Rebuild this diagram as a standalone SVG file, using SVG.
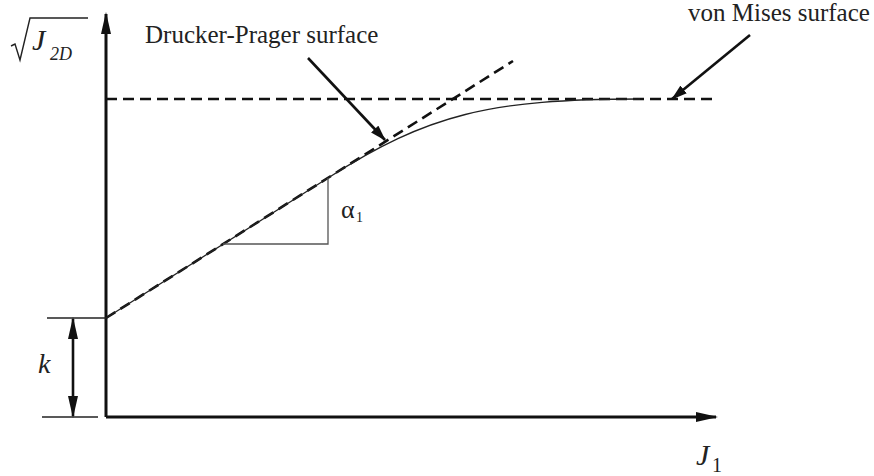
<svg xmlns="http://www.w3.org/2000/svg" width="874" height="476" viewBox="0 0 874 476">
<style>
.txt{font-family:"Liberation Serif","Times New Roman",serif;fill:#222}
.it{font-style:italic}
.axis{stroke:#111;stroke-width:3;fill:none}
.dash{stroke:#111;stroke-width:2.6;stroke-dasharray:11 6;fill:none}
.thin{stroke:#333;stroke-width:1.3;fill:none}
.ptr{stroke:#111;stroke-width:2.6;fill:none}
</style>
<defs>
<marker id="ah" viewBox="0 0 22 10" refX="20" refY="5" markerWidth="22" markerHeight="10" markerUnits="userSpaceOnUse" orient="auto-start-reverse">
<path d="M0,0 L22,5 L0,10 z" fill="#111"/>
</marker>
<marker id="ph" viewBox="0 0 16 10" refX="15" refY="5" markerWidth="16" markerHeight="10" markerUnits="userSpaceOnUse" orient="auto">
<path d="M0,0 L16,5 L0,10 z" fill="#111"/>
</marker>
</defs>
<g id="axes">
<line class="axis" x1="106" y1="417" x2="106" y2="14" marker-end="url(#ah)"/>
<line class="axis" x1="106" y1="417" x2="716" y2="417" marker-end="url(#ah)"/>
</g>
<g id="y-label">
<path class="thin" d="M11,46 L15,44 L20,60 L30,18 L88,18" style="stroke:#222;stroke-width:1.4"/>
<text class="txt it" x="32" y="50" font-size="30">J</text>
<text class="txt it" x="50" y="60" font-size="18">2D</text>
</g>
<g id="x-label">
<text class="txt it" x="696" y="465" font-size="30">J</text>
<text class="txt" x="712" y="472" font-size="20">1</text>
</g>
<g id="von-mises-surface">
<line class="dash" x1="106" y1="99" x2="718" y2="99"/>
</g>
<g id="drucker-prager-surface">
<line class="dash" x1="106" y1="318" x2="513" y2="61"/>
</g>
<g id="yield-curve">
<path class="thin" d="M106,318 L328,178 C428,114 490,99 640,99" style="stroke:#222"/>
</g>
<g id="slope-triangle">
<path class="thin" d="M223,244 L328,244 L328,178" style="stroke:#555"/>
<text class="txt" x="341" y="218" font-size="26">α</text>
<text class="txt" x="356" y="222" font-size="14">1</text>
</g>
<g id="k-dimension">
<line class="thin" x1="47" y1="318" x2="106" y2="318" style="stroke:#222"/>
<line class="thin" x1="42" y1="417" x2="98" y2="417" style="stroke:#222"/>
<line class="ptr" x1="73" y1="319" x2="73" y2="416" marker-start="url(#ah)" marker-end="url(#ah)"/>
<text class="txt it" x="38" y="373" font-size="28">k</text>
</g>
<g id="connectors">
<line class="ptr" x1="308" y1="58" x2="385" y2="140" marker-end="url(#ph)"/>
<line class="ptr" x1="750" y1="35" x2="672" y2="99" marker-end="url(#ph)"/>
</g>
<g id="labels">
<text class="txt" x="145" y="43" font-size="25">Drucker-Prager surface</text>
<text class="txt" x="688" y="21" font-size="25">von Mises surface</text>
</g>
</svg>
